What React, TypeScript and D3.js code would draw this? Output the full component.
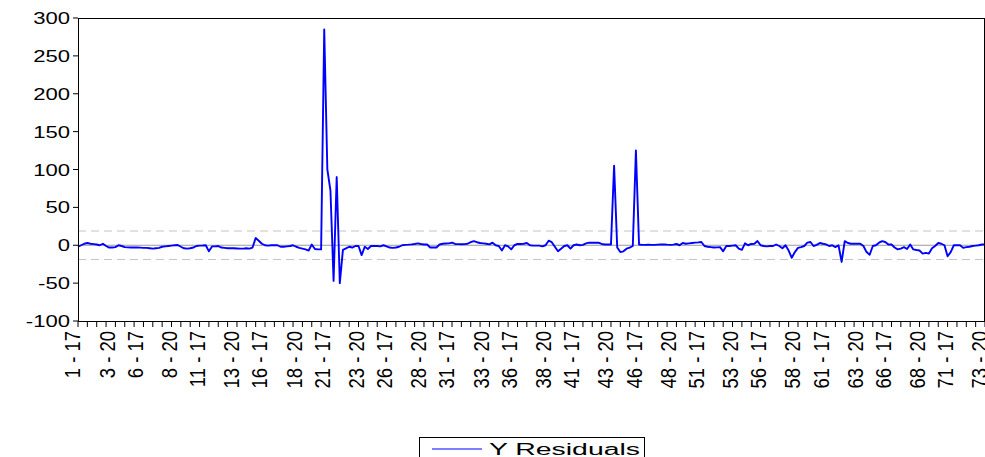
import React, { useRef, useEffect } from "react";
import * as d3 from "d3";

// residuals, one per observation (cross-section 1..73, years 17..20)
const residuals: number[] = [
  -2, 0, 2, 3, 2, 1.5, 1, 0, 2, -1,
  -3, -3, -2.5, 0, -1, -2.5, -2.8, -3, -2.8, -3,
  -3.2, -3.5, -3.5, -4, -4.5, -4, -3.5, -2, -1.5, -1,
  -0.5, 0, 0.3, -2, -4, -4.5, -4, -3, -1, -0.5,
  -0.3, 0, -8, -1.5, -1.5, -1, -3, -3.5, -4, -4,
  -4, -4.2, -4.5, -4.5, -4, -4.5, -3, 9.5, 6, 2,
  0, -0.5, 0, 0, 0, -2, -2, -1.5, -1, 0,
  -2, -3.5, -4.5, -5.5, -7, 1, -5, -5.5, -5.5, 285,
  100, 72, -47, 90, -50, -6, -4, -2, -3, -1,
  -1, -13, -2, -5, -1, -1, -1, -1.5, 0, -1.5,
  -3, -3.5, -3, -2, 0, 0.5, 0.8, 1.2, 1.7, 2.5,
  1.7, 1, 1, -3, -3, -3, 1, 2, 2.3, 2.5,
  3.4, 1.7, 1.5, 1.3, 1.5, 2, 4, 5.5, 4, 3,
  2.5, 2, 1.2, 3.4, 0, -1, -7, 0, -1.5, -5.5,
  0, 1.7, 1.7, 2, 3, 0, -0.5, -0.5, -0.5, -1.5,
  0, 6, 4, -2, -8, -4.5, -1, 0, -4.5, 0,
  1, 0, 0.5, 2.5, 3.4, 3.4, 3.4, 3.4, 1.7, 1,
  1, 1, 105, -3, -9, -8, -4.5, -3, -1, 125,
  1, 0.5, 0.5, 0.8, 0.5, 0.5, 0.8, 1, 1.2, 0.8,
  0.5, 0.8, 1.7, 0, 3, 2, 2.5, 3, 3.5, 3.8,
  4.3, -1, -2, -2.5, -3, -2.8, -2.5, -8, -1, -1,
  -0.5, 0, -4.5, -6, 2.5, 0, 1.7, 2, 5.5, 0,
  -1, -1.5, -1, -1, 1, -1, -4, 0, -7, -16.5,
  -9, -3.5, -2.5, -1, 3.4, 4.3, -1, 0.5, 3, 2,
  1.2, -1, 0, -2.5, 0, -22, 5.5, 3, 2, 2,
  2, 2, -1, -9, -12.5, -1, 0, 3.4, 5.5, 4.3,
  1, 1, -3, -5.5, -4.5, -2.5, -5, 1, -5.5, -6.3,
  -7, -11, -10, -11, -4, -1, 3, 2, 0, -14.6,
  -9, 0, 0, 0, -3.5, -2.5, -2, -1, -0.5, 0,
  1, 1,
];

const xTickLabels = [
  "1 - 17", "3 - 20", "6 - 17", "8 - 20", "11 - 17", "13 - 20", "16 - 17", "18 - 20",
  "21 - 17", "23 - 20", "26 - 17", "28 - 20", "31 - 17", "33 - 20", "36 - 17", "38 - 20",
  "41 - 17", "43 - 20", "46 - 17", "48 - 20", "51 - 17", "53 - 20", "56 - 17", "58 - 20",
  "61 - 17", "63 - 20", "66 - 17", "68 - 20", "71 - 17", "73 - 20",
];

const yTicks = [-100, -50, 0, 50, 100, 150, 200, 250, 300];
const bandLimit = 18.8; // +/- dashed band
const seriesName = "Y Residuals";

// "3 - 20" -> observation index
const labelIndex = (s: string) => {
  const [cs, yr] = s.split(" - ").map(Number);
  return (cs - 1) * 4 + (yr - 17);
};

const App = () => {
  const ref = useRef<HTMLDivElement>(null);

  useEffect(() => {
    const root = d3.select(ref.current);
    root.select("svg").remove();

    const W = 985;
    const H = 457;
    const left = 78;
    const right = 985;
    const top = 18;
    const bottom = 321;
    const font = "'Liberation Sans', Arial, sans-serif";

    const x = d3.scaleLinear().domain([0, residuals.length - 1]).range([left, right]);
    const y = d3.scaleLinear().domain([-100, 300]).range([bottom, top]);

    const svg = root
      .append("svg")
      .attr("width", W)
      .attr("height", H)
      .style("position", "absolute")
      .style("left", 0)
      .style("top", 0)
      .style("background", "#fff");

    // reference lines
    svg
      .append("line")
      .attr("x1", left).attr("x2", right)
      .attr("y1", y(0)).attr("y2", y(0))
      .attr("stroke", "#9a9a9a").attr("stroke-width", 1.2);

    svg
      .selectAll(".band")
      .data([bandLimit, -bandLimit])
      .enter()
      .append("line")
      .attr("x1", left).attr("x2", right)
      .attr("y1", (d) => y(d)).attr("y2", (d) => y(d))
      .attr("stroke", "#c4c4c4").attr("stroke-width", 1.2)
      .attr("stroke-dasharray", "8,5");

    // series
    const line = d3
      .line<number>()
      .x((_, i) => x(i))
      .y((d) => y(d));

    svg
      .append("path")
      .datum(residuals)
      .attr("d", line)
      .attr("fill", "none")
      .attr("stroke", "#0000ff")
      .attr("stroke-width", 1.9)
      .attr("stroke-linejoin", "round");

    // frame
    svg
      .append("rect")
      .attr("x", left + 0.5).attr("y", top + 0.5)
      .attr("width", right - left - 1).attr("height", bottom - top)
      .attr("fill", "none").attr("stroke", "#000").attr("stroke-width", 1);

    // y axis
    const yAxis = svg.append("g");
    yAxis
      .selectAll("line")
      .data(yTicks)
      .enter()
      .append("line")
      .attr("x1", left - 5).attr("x2", left)
      .attr("y1", (d) => y(d)).attr("y2", (d) => y(d))
      .attr("stroke", "#000");
    yAxis
      .selectAll("text")
      .data(yTicks)
      .enter()
      .append("text")
      .attr("transform", (d) => `translate(${left - 8},${y(d)}) scale(1.3,1)`)
      .attr("text-anchor", "end")
      .attr("dominant-baseline", "central")
      .style("font-family", font)
      .style("font-size", "17px")
      .text((d) => d);

    // x axis
    const xAxis = svg.append("g");
    xAxis
      .selectAll("line")
      .data(d3.range(0, residuals.length, 3))
      .enter()
      .append("line")
      .attr("x1", (d) => x(d)).attr("x2", (d) => x(d))
      .attr("y1", bottom).attr("y2", bottom + 6)
      .attr("stroke", "#000");
    xAxis
      .selectAll("text")
      .data(xTickLabels)
      .enter()
      .append("text")
      .attr("transform", (d) => `translate(${x(labelIndex(d)) - 5},${bottom + 10}) rotate(-90) scale(1,1.15)`)
      .attr("text-anchor", "end")
      .attr("dominant-baseline", "central")
      .style("font-family", font)
      .style("font-size", "18.5px")
      .text((d) => d);

    // legend
    const lg = svg.append("g");
    lg.append("rect")
      .attr("x", 419.5).attr("y", 437.5)
      .attr("width", 225).attr("height", 30)
      .attr("fill", "#fff").attr("stroke", "#000");
    lg.append("line")
      .attr("x1", 432).attr("x2", 482)
      .attr("y1", 449).attr("y2", 449)
      .attr("stroke", "#0000ff").attr("stroke-width", 1.2);
    lg.append("text")
      .attr("x", 489).attr("y", 449)
      .attr("dominant-baseline", "central")
      .attr("textLength", 151)
      .attr("lengthAdjust", "spacingAndGlyphs")
      .style("font-family", font)
      .style("font-size", "16px")
      .text(seriesName);
  }, []);

  return <div ref={ref}></div>;
};

export default App;
